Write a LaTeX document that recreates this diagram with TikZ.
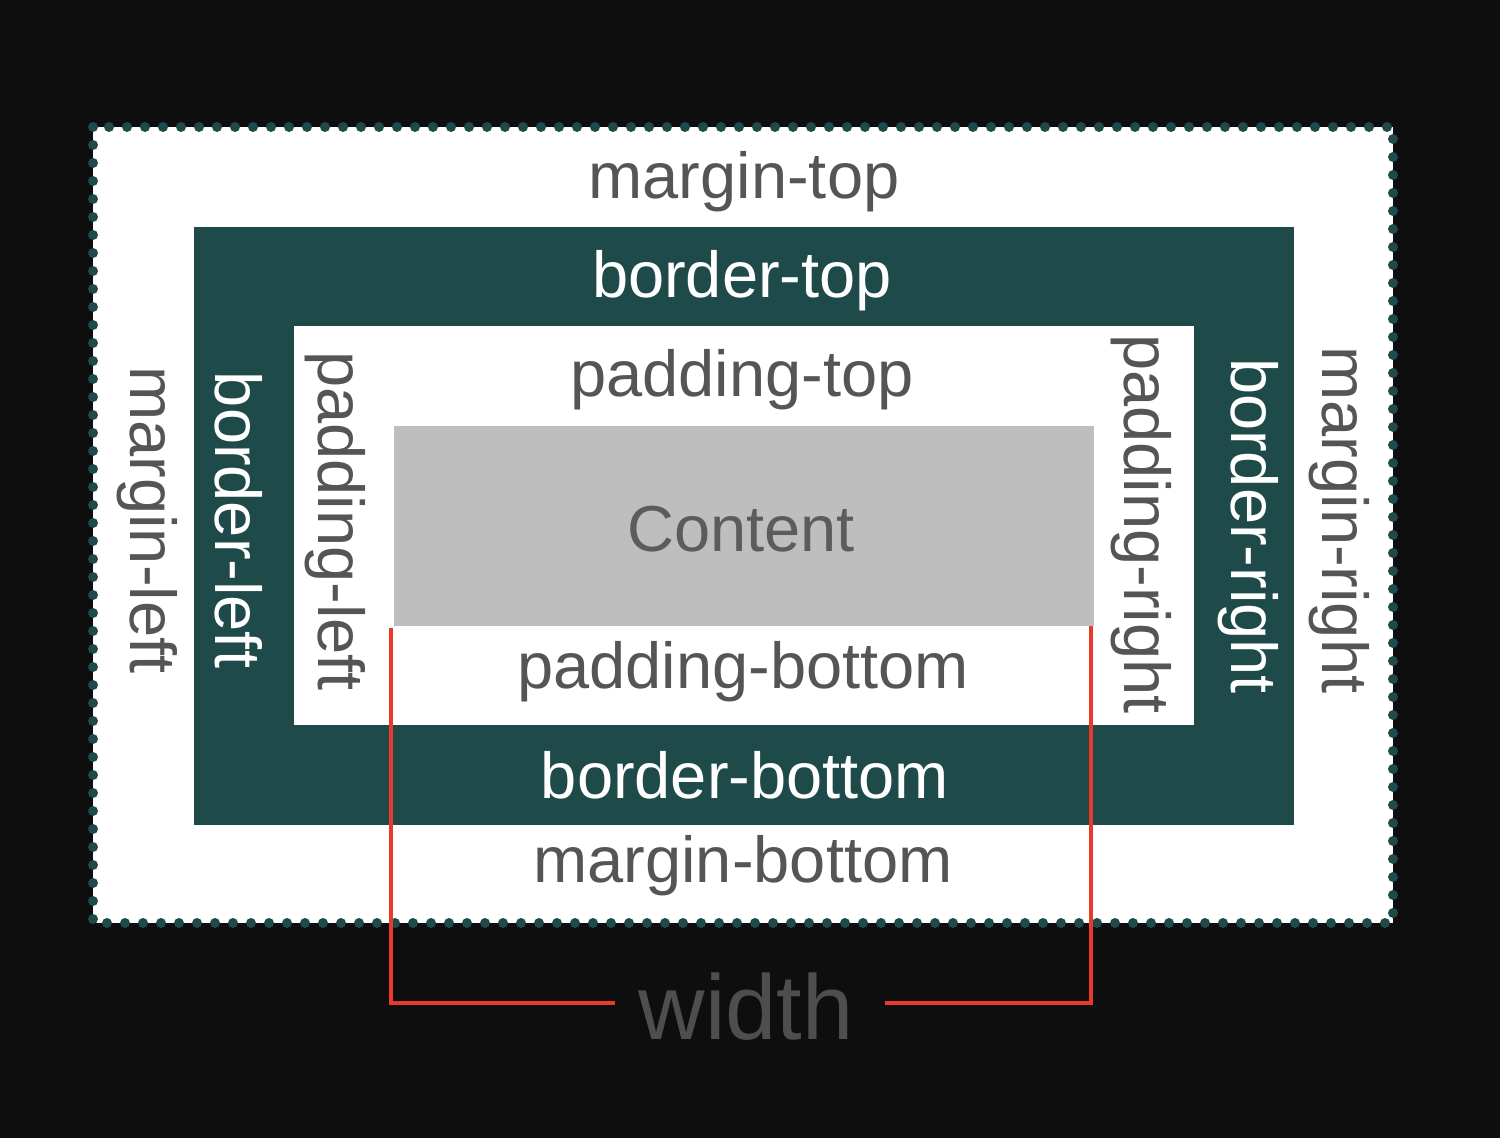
\documentclass[tikz,border=0pt]{standalone}
\usepackage{fontspec}
\setmainfont{Liberation Sans}
\definecolor{bgblack}{HTML}{0E0E0E}
\definecolor{teal}{HTML}{1F4A4A}
\definecolor{contentgray}{HTML}{BEBEBE}
\definecolor{txtgray}{HTML}{555555}
\definecolor{conttxt}{HTML}{5C5C5C}
\definecolor{widthtxt}{HTML}{4E4E4E}
\definecolor{redline}{HTML}{E8392A}
\begin{document}
\begin{tikzpicture}[x=1pt,y=-1pt,
  lbl/.style={inner sep=0pt,font=\fontsize{65}{78}\selectfont},
  darklbl/.style={lbl,text=txtgray},
  lightlbl/.style={lbl,text=white},
  side/.style={rotate=-90},
  bracket/.style={draw=redline,line width=4pt}]
\useasboundingbox (0,0) rectangle (1500,1138);
\fill[bgblack] (0,0) rectangle (1500,1138);
% margin box
\fill[white] (93,127) rectangle (1393,923);
\draw[teal,line width=10pt,line cap=round,dash pattern=on 0pt off 18pt] (93,127) rectangle (1393,923);
% border box
\fill[teal] (194,227) rectangle (1294,825);
% padding box
\fill[white] (294,326) rectangle (1194,725);
% content box
\fill[contentgray] (394,426) rectangle (1094,626);
% labels
\node[darklbl] (mt) at (744,182) {margin-top};
\node[lightlbl] (bt) at (742,281) {border-top};
\node[darklbl] (pt) at (742,380) {padding-top};
\node[lbl,text=conttxt] (ct) at (741,529) {Content};
\node[darklbl] (pb) at (743,672) {padding-bottom};
\node[lightlbl] (bb) at (745,775) {border-bottom};
\node[darklbl] (mb) at (743,866) {margin-bottom};
\node[darklbl,side] (ml) at (147,520) {margin-left};
\node[lightlbl,side] (bl) at (239,520) {border-left};
\node[darklbl,side] (pl) at (335,521) {padding-left};
\node[darklbl,side] (pr) at (1141,524) {padding-right};
\node[lightlbl,side] (br) at (1248,526) {border-right};
\node[darklbl,side] (mr) at (1339,520) {margin-right};
% width bracket
\node[inner sep=0pt,text=widthtxt,font=\fontsize{92}{110}\selectfont] (w) at (746,1007) {width};
\coordinate (lt) at (391,628);
\coordinate (lc) at (391,1003);
\coordinate (le) at (615,1003);
\coordinate (rt) at (1091,626);
\coordinate (rc) at (1091,1003);
\coordinate (re) at (885,1003);
\draw[bracket] (lt) -- (lc) -- (le);
\draw[bracket] (rt) -- (rc) -- (re);
\end{tikzpicture}
\end{document}
